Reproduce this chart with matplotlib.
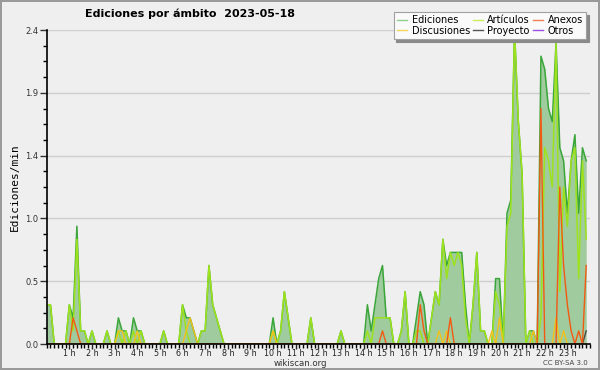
import numpy as np
import matplotlib.pyplot as plt
from matplotlib.ticker import MultipleLocator, FixedLocator, FuncFormatter
from matplotlib.lines import Line2D

# edits per minute, one value per 10-minute slot (one row per hour)
ediciones = [
    0.3, 0.3, 0.0, 0.0, 0.0, 0.0,   # 0 h
    0.3, 0.2, 0.9, 0.1, 0.1, 0.0,   # 1 h
    0.1, 0.0, 0.0, 0.0, 0.1, 0.0,   # 2 h
    0.0, 0.2, 0.1, 0.1, 0.0, 0.2,   # 3 h
    0.1, 0.1, 0.0, 0.0, 0.0, 0.0,   # 4 h
    0.0, 0.1, 0.0, 0.0, 0.0, 0.0,   # 5 h
    0.3, 0.2, 0.2, 0.1, 0.0, 0.1,   # 6 h
    0.1, 0.6, 0.3, 0.2, 0.1, 0.0,   # 7 h
    0.0, 0.0, 0.0, 0.0, 0.0, 0.0,   # 8 h
    0.0, 0.0, 0.0, 0.0, 0.0, 0.0,   # 9 h
    0.2, 0.0, 0.1, 0.4, 0.2, 0.0,   # 10 h
    0.0, 0.0, 0.0, 0.0, 0.2, 0.0,   # 11 h
    0.0, 0.0, 0.0, 0.0, 0.0, 0.0,   # 12 h
    0.1, 0.0, 0.0, 0.0, 0.0, 0.0,   # 13 h
    0.0, 0.3, 0.1, 0.3, 0.5, 0.6,   # 14 h
    0.2, 0.2, 0.0, 0.0, 0.1, 0.4,   # 15 h
    0.0, 0.0, 0.2, 0.4, 0.3, 0.0,   # 16 h
    0.2, 0.4, 0.3, 0.8, 0.6, 0.7,   # 17 h
    0.7, 0.7, 0.7, 0.3, 0.0, 0.3,   # 18 h
    0.7, 0.1, 0.1, 0.0, 0.0, 0.5,   # 19 h
    0.5, 0.0, 1.0, 1.1, 2.4, 1.7,   # 20 h
    1.3, 0.0, 0.1, 0.1, 0.0, 2.2,   # 21 h
    2.1, 1.8, 1.7, 2.3, 1.5, 1.4,   # 22 h
    1.0, 1.4, 1.6, 1.0, 1.5, 1.4,   # 23 h
]
articulos = [
    0.3, 0.3, 0.0, 0.0, 0.0, 0.0,
    0.3, 0.1, 0.8, 0.1, 0.1, 0.0,
    0.1, 0.0, 0.0, 0.0, 0.1, 0.0,
    0.0, 0.1, 0.0, 0.1, 0.0, 0.1,
    0.0, 0.1, 0.0, 0.0, 0.0, 0.0,
    0.0, 0.1, 0.0, 0.0, 0.0, 0.0,
    0.3, 0.1, 0.0, 0.0, 0.0, 0.1,
    0.1, 0.6, 0.3, 0.2, 0.1, 0.0,
    0.0, 0.0, 0.0, 0.0, 0.0, 0.0,
    0.0, 0.0, 0.0, 0.0, 0.0, 0.0,
    0.1, 0.0, 0.1, 0.4, 0.2, 0.0,
    0.0, 0.0, 0.0, 0.0, 0.2, 0.0,
    0.0, 0.0, 0.0, 0.0, 0.0, 0.0,
    0.1, 0.0, 0.0, 0.0, 0.0, 0.0,
    0.0, 0.1, 0.0, 0.2, 0.2, 0.2,
    0.2, 0.2, 0.0, 0.0, 0.1, 0.4,
    0.0, 0.0, 0.1, 0.1, 0.0, 0.0,
    0.2, 0.4, 0.3, 0.8, 0.5, 0.7,
    0.6, 0.7, 0.6, 0.2, 0.0, 0.3,
    0.7, 0.1, 0.1, 0.0, 0.0, 0.4,
    0.3, 0.0, 0.9, 1.0, 2.4, 1.7,
    1.3, 0.0, 0.1, 0.0, 0.0, 0.2,
    1.5, 1.4, 1.2, 2.3, 0.4, 1.2,
    0.9, 1.4, 1.5, 0.5, 1.4, 0.8,
]
discusiones = [0.0] * 144
anexos = [0.0] * 144
proyecto = [0.0] * 144
otros = [0.0] * 144

# the few non-zero slots of the small series: (slot, value)
disc_points = [(19, 0.1), (20, 0.1), (24, 0.1), (37, 0.1), (38, 0.2), (39, 0.1),
               (60, 0.1), (104, 0.1), (106, 0.1), (118, 0.1), (120, 0.2),
               (129, 0.1), (135, 0.2), (137, 0.1)]
anex_points = [(7, 0.2), (8, 0.1), (89, 0.1), (99, 0.3), (100, 0.1), (107, 0.2),
               (131, 1.8), (136, 1.2), (137, 0.6), (138, 0.3), (139, 0.1),
               (141, 0.1), (143, 0.6)]
proy_points = [(143, 0.1)]
for i, v in disc_points:
    discusiones[i] = v
for i, v in anex_points:
    anexos[i] = v
for i, v in proy_points:
    proyecto[i] = v

minutes = np.arange(0, 1440, 10)
hours = minutes / 60

plt.rcParams['font.family'] = ['DejaVu Sans']
fig = plt.figure(figsize=(6, 3.7), dpi=100, facecolor='#efefef')
fig.patch.set_edgecolor('#9a9a9a')
fig.patch.set_linewidth(1.5)
ax = fig.add_axes([46.7 / 600, 1 - 344 / 370, (590 - 46.7) / 600, (344 - 30) / 370])
ax.set_facecolor('#efefef')

ax.fill_between(hours, ediciones, color='#9fcb9f', lw=0, zorder=1)
ax.plot(hours, ediciones, color='#3aa63a', lw=1.1, zorder=2)
ax.plot(hours, otros, color='#9b4fe0', lw=1, zorder=2)
ax.plot(hours, proyecto, color='#4a4a4a', lw=1, zorder=2)
ax.plot(hours, articulos, color='#9de21c', lw=1.1, zorder=2)
ax.plot(hours, discusiones, color='#f2c21a', lw=1, zorder=2)
ax.plot(hours, anexos, color='#f25a12', lw=1, zorder=2)

ax.set_xlim(0, 24)
ax.set_ylim(0, 2.4)
ax.yaxis.set_major_locator(MultipleLocator(0.48))
ax.yaxis.set_minor_locator(MultipleLocator(0.12))
ax.yaxis.set_major_formatter(FuncFormatter(lambda y, _: f"{y:.1f}"))
ax.xaxis.set_major_locator(FixedLocator(range(1, 24)))
ax.xaxis.set_minor_locator(MultipleLocator(1 / 6))
ax.xaxis.set_major_formatter(FuncFormatter(lambda x, _: f"{int(round(x))} h"))

ax.grid(True, axis='y', which='major', color='#cfcfcf', lw=1)
ax.set_axisbelow(True)
for side in ('top', 'right'):
    ax.spines[side].set_visible(False)
for side in ('left', 'bottom'):
    ax.spines[side].set_linewidth(1.2)
    ax.spines[side].set_zorder(3)

ax.tick_params(axis='x', which='major', length=3.5, width=1, labelsize=5.8, pad=0, colors='#222222')
ax.tick_params(axis='x', which='minor', length=3, width=1)
ax.tick_params(axis='y', which='major', length=5, width=1, labelsize=6, pad=1, colors='#333333')
ax.tick_params(axis='y', which='minor', length=3, width=1)

ax.set_ylabel("Ediciones/min", fontsize=8, family='DejaVu Sans Mono', labelpad=4)

fig.text(85 / 600, 1 - 14 / 370, "Ediciones por ámbito  2023-05-18",
         fontsize=8.0, fontweight='bold', ha='left', va='center')
fig.text(300 / 600, 1 - 363 / 370, "wikiscan.org", fontsize=6.2, color='#333333',
         ha='center', va='center')
fig.text(588 / 600, 1 - 363 / 370, "CC BY-SA 3.0", fontsize=5, color='#444444',
         ha='right', va='center')

handles = [
    Line2D([0], [0], color='#8fd08f', lw=1, label='Ediciones'),
    Line2D([0], [0], color='#f5d45a', lw=1, label='Discusiones'),
    Line2D([0], [0], color='#c8ee5a', lw=1, label='Artículos'),
    Line2D([0], [0], color='#555555', lw=1, label='Proyecto'),
    Line2D([0], [0], color='#f08050', lw=1, label='Anexos'),
    Line2D([0], [0], color='#9b4fe0', lw=1, label='Otros'),
]
leg = fig.legend(handles=handles, ncol=3, loc='upper right',
                 bbox_to_anchor=(591 / 600, 1 - 7 / 370), fontsize=7,
                 handlelength=1.0, handletextpad=0.5, columnspacing=0.3,
                 labelspacing=0.05, borderpad=0.35, frameon=True, fancybox=False,
                 shadow={'color': '#8a8a8a', 'alpha': 1.0})
leg.get_frame().set_facecolor('#fafafa')
leg.get_frame().set_edgecolor('#a0a0a0')
leg.get_frame().set_linewidth(0.8)

fig.savefig('out.png', dpi=100, facecolor=fig.get_facecolor())
